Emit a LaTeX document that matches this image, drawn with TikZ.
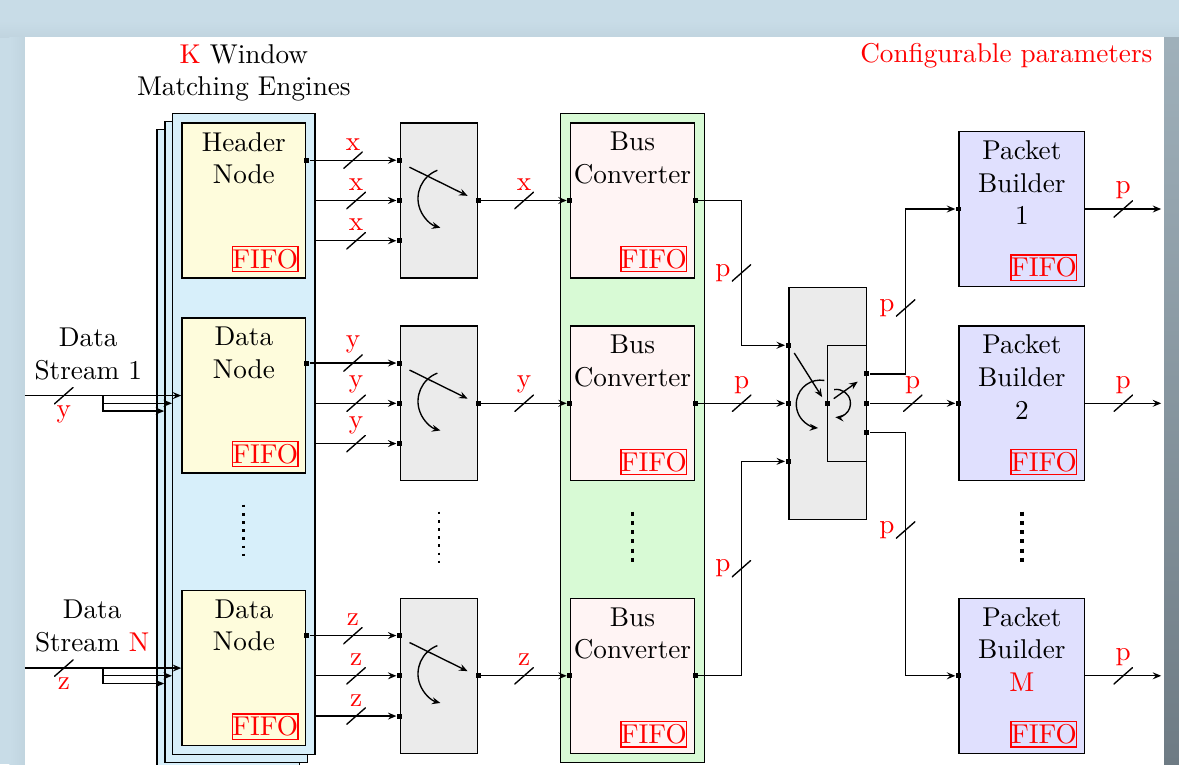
\documentclass[tikz,border=0pt]{standalone}
\usepackage{tikz}
\usepackage{xcolor}
\usetikzlibrary{positioning, calc, arrows.meta}
\definecolor{pageBg}{HTML}{C8DCE7}
\definecolor{pageShade}{HTML}{6E7B84}
\definecolor{wmeBlue}{HTML}{D7EFFA}
\definecolor{nodeYellow}{HTML}{FEFCDC}
\definecolor{swGray}{HTML}{EBEBEB}
\definecolor{busGreen}{HTML}{D8FAD5}
\definecolor{busPink}{HTML}{FFF4F4}
\definecolor{pbBlue}{HTML}{E0E0FE}

\begin{document}
\begin{tikzpicture}[
  line width=0.5pt,
  >={Stealth[length=1.1mm, width=0.9mm, inset=0.4mm]},
  wmelayer/.style={draw, fill=wmeBlue, minimum width=1.84cm, minimum height=8.28cm},
  dnode/.style={draw, fill=nodeYellow, minimum width=1.6cm, minimum height=2cm},
  swbox/.style={draw, fill=swGray, minimum width=1cm, minimum height=2cm},
  bcbox/.style={draw, fill=busPink, minimum width=1.6cm, minimum height=2cm},
  pbbox/.style={draw, fill=pbBlue, minimum width=1.62cm, minimum height=2cm},
  ttl/.style={align=center},
  fifo/.style={draw=red, text=red, inner xsep=0pt, inner ysep=1pt},
  port/.style={fill=black, inner sep=0pt, minimum size=1.8pt},
  lbl/.style={text=red, inner sep=0pt},
  bw/.style={inner sep=0pt, minimum width=0.25cm, minimum height=0.22cm,
             path picture={\draw[-] (path picture bounding box.south west)
                                 -- (path picture bounding box.north east);}},
  bwa/.style={bw, label={[lbl]above:#1}},
  bwb/.style={bw, label={[lbl]below:#1}},
  bwl/.style={bw, label={[lbl]left:#1}},
  morerows/.style={dotted, line width=1pt},
]
  % PAGE
  \useasboundingbox (0,0) rectangle (15.23,9.87);
  \clip (0,0) rectangle (15.23,9.87);
  \fill[pageBg] (0,0) rectangle (15.23,9.87);
  \shade[top color=pageBg, bottom color=pageBg!92!pageShade] (0,9.39) rectangle (15.23,9.6);
  \shade[left color=pageBg, right color=pageBg!92!pageShade] (0.12,0) rectangle (0.32,9.39);
  \shade[top color=pageBg!55!pageShade, bottom color=pageShade] (15.03,0) rectangle (15.23,9.39);
  \fill[white] (0.32,-0.1) rectangle (15.03,9.39);

  \node[ttl] (wtitle) at (3.15,8.93) {\textcolor{red}{K} Window\\Matching Engines};
  \node[text=red] (conf) at (13.0,9.15) {Configurable parameters};

  % WINDOW MATCHING ENGINES
  \node[wmelayer] (wme3) at (2.95,4.06) {};
  \node[wmelayer] (wme2) at (3.05,4.16) {};
  \node[wmelayer] (wme1) at (3.15,4.26) {};
  \node[dnode] (hn) at (3.15,7.28) {};
  \node[ttl, below=0pt of hn.north] (hnt) {Header\\Node};
  \node[fifo, above left=0.08cm and 0.1cm of hn.south east] (hnf) {FIFO};
  \node[dnode] (dn1) at (3.15,4.76) {};
  \node[ttl, below=0pt of dn1.north] (dn1t) {Data\\Node};
  \node[fifo, above left=0.08cm and 0.1cm of dn1.south east] (dn1f) {FIFO};
  \node[dnode] (dnN) at (3.15,1.24) {};
  \node[ttl, below=0pt of dnN.north] (dnNt) {Data\\Node};
  \node[fifo, above left=0.08cm and 0.1cm of dnN.south east] (dnNf) {FIFO};
  \draw[morerows] (3.15,3.35) -- (3.15,2.67);

  % DATA STREAMS
  \node[ttl] (ds1t) at (1.14,5.30) {Data\\Stream 1};
  \coordinate (ds1) at (0.32,4.76);
  \coordinate (br1) at (1.33,4.76);
  \draw[->] (ds1) -- node[bwb=y] (wy0) {} (br1) -- (dn1.west);
  \draw[->] (br1) |- ($(wme1.west |- br1)+(0,-0.1)$);
  \draw[->] (br1) |- ($(wme2.west |- br1)+(0,-0.2)$);
  \node[ttl] (dsNt) at (1.19,1.78) {Data\\Stream \textcolor{red}{N}};
  \coordinate (dsN) at (0.32,1.24);
  \coordinate (br2) at (1.33,1.24);
  \draw[->] (dsN) -- node[bwb=z] (wz0) {} (br2) -- (dnN.west);
  \draw[->] (br2) |- ($(wme1.west |- br2)+(0,-0.1)$);
  \draw[->] (br2) |- ($(wme2.west |- br2)+(0,-0.2)$);

  % SWITCHES
  \node[swbox] (sw1) at (5.67,7.28) {};
  \node[port] (s1a) at ($(sw1.west)+(0,0.52)$) {};
  \node[port] (s1b) at (sw1.west) {};
  \node[port] (s1c) at ($(sw1.west)+(0,-0.52)$) {};
  \node[port] (s1o) at (sw1.east) {};
  \draw[->] ($(sw1)+(-0.38,0.43)$) -- ($(sw1)+(0.37,0.06)$);
  \draw[->] ($(sw1)+(-0.02,0.39)$) arc[start angle=111, end angle=255, radius=0.39];
  \node[port] (h1) at (hn.east |- s1a) {};
  \draw[->] (h1) -- node[bwa=x] (wx1) {} (s1a);
  \draw[->] (wme1.east |- s1b) -- node[bwa=x] (wx2) {} (s1b);
  \draw[->] (wme1.east |- s1c) -- node[bwa=x] (wx3) {} (s1c);

  \node[swbox] (sw2) at (5.67,4.66) {};
  \node[port] (s2a) at ($(sw2.west)+(0,0.52)$) {};
  \node[port] (s2b) at (sw2.west) {};
  \node[port] (s2c) at ($(sw2.west)+(0,-0.52)$) {};
  \node[port] (s2o) at (sw2.east) {};
  \draw[->] ($(sw2)+(-0.38,0.43)$) -- ($(sw2)+(0.37,0.06)$);
  \draw[->] ($(sw2)+(-0.02,0.39)$) arc[start angle=111, end angle=255, radius=0.39];
  \node[port] (d1) at (dn1.east |- s2a) {};
  \draw[->] (d1) -- node[bwa=y] (wy1) {} (s2a);
  \draw[->] (wme1.east |- s2b) -- node[bwa=y] (wy2) {} (s2b);
  \draw[->] (wme1.east |- s2c) -- node[bwa=y] (wy3) {} (s2c);

  \draw[morerows] (5.67,3.26) -- (5.67,2.56);

  \node[swbox] (sw3) at (5.67,1.14) {};
  \node[port] (s3a) at ($(sw3.west)+(0,0.52)$) {};
  \node[port] (s3b) at (sw3.west) {};
  \node[port] (s3c) at ($(sw3.west)+(0,-0.52)$) {};
  \node[port] (s3o) at (sw3.east) {};
  \draw[->] ($(sw3)+(-0.38,0.43)$) -- ($(sw3)+(0.37,0.06)$);
  \draw[->] ($(sw3)+(-0.02,0.39)$) arc[start angle=111, end angle=255, radius=0.39];
  \node[port] (d2) at (dnN.east |- s3a) {};
  \draw[->] (d2) -- node[bwa=z] (wz1) {} (s3a);
  \draw[->] (wme1.east |- s3b) -- node[bwa=z] (wz2) {} (s3b);
  \draw[->] (wme1.east |- s3c) -- node[bwa=z] (wz3) {} (s3c);

  % BUS CONVERTERS
  \node[draw, fill=busGreen, minimum width=1.86cm, minimum height=8.38cm] (bcs) at (8.17,4.21) {};
  \node[bcbox] (bc1) at (8.17,7.28) {};
  \node[ttl, below=0pt of bc1.north] (bc1t) {Bus\\Converter};
  \node[fifo, above left=0.08cm and 0.1cm of bc1.south east] (bc1f) {FIFO};
  \node[bcbox] (bc2) at (8.17,4.66) {};
  \node[ttl, below=0pt of bc2.north] (bc2t) {Bus\\Converter};
  \node[fifo, above left=0.08cm and 0.1cm of bc2.south east] (bc2f) {FIFO};
  \node[bcbox] (bc3) at (8.17,1.14) {};
  \node[ttl, below=0pt of bc3.north] (bc3t) {Bus\\Converter};
  \node[fifo, above left=0.08cm and 0.1cm of bc3.south east] (bc3f) {FIFO};
  \draw[morerows, line width=1.4pt] (8.17,3.26) -- (8.17,2.56);
  \node[port] (c1i) at (bc1.west) {};
  \node[port] (c1o) at (bc1.east) {};
  \node[port] (c2i) at (bc2.west) {};
  \node[port] (c2o) at (bc2.east) {};
  \node[port] (c3i) at (bc3.west) {};
  \node[port] (c3o) at (bc3.east) {};
  \draw[->] (s1o) -- node[bwa=x] (wx4) {} (c1i);
  \draw[->] (s2o) -- node[bwa=y] (wy4) {} (c2i);
  \draw[->] (s3o) -- node[bwa=z] (wz4) {} (c3i);

  % MIDDLE SWITCH
  \node[swbox, minimum height=3cm] (ms) at (10.69,4.66) {};
  \draw ($(ms.east)+(0,0.75)$) -| ($(ms.center)+(0,-0.75)$) -- ($(ms.east)+(0,-0.75)$);
  \node[port] (mi1) at ($(ms.west)+(0,0.75)$) {};
  \node[port] (mi2) at (ms.west) {};
  \node[port] (mi3) at ($(ms.west)+(0,-0.75)$) {};
  \node[port] (mc) at (ms.center) {};
  \node[port] (mo1) at ($(ms.east)+(0,0.38)$) {};
  \node[port] (mo2) at (ms.east) {};
  \node[port] (mo3) at ($(ms.east)+(0,-0.38)$) {};
  \draw[->] ($(ms)+(-0.43,0.65)$) -- ($(ms)+(-0.07,0.08)$);
  \draw[->] ($(ms)+(-0.04,0.295)$) arc[start angle=80, end angle=265, radius=0.31];
  \draw[->] ($(ms)+(0.08,0.06)$) -- ($(ms)+(0.39,0.28)$);
  \draw[->] ($(ms)+(0.085,0.177)$) arc[start angle=100, end angle=-95, radius=0.18];
  \draw[->] (c1o) -- ++(0.6,0) |- node[pos=0.25, bwl=p] (wp1) {} (mi1);
  \draw[->] (c2o) -- node[bwa=p] (wp2) {} (mi2);
  \draw[->] (c3o) -- ++(0.6,0) |- node[pos=0.25, bwl=p] (wp3) {} (mi3);

  % PACKET BUILDERS
  \node[pbbox] (pb1) at (13.2,7.17) {};
  \node[ttl, below=0pt of pb1.north] (pb1t) {Packet\\Builder\\1};
  \node[fifo, above left=0.08cm and 0.1cm of pb1.south east] (pb1f) {FIFO};
  \node[pbbox] (pb2) at (13.2,4.66) {};
  \node[ttl, below=0pt of pb2.north] (pb2t) {Packet\\Builder\\2};
  \node[fifo, above left=0.08cm and 0.1cm of pb2.south east] (pb2f) {FIFO};
  \node[pbbox] (pbM) at (13.2,1.14) {};
  \node[ttl, below=0pt of pbM.north] (pbMt) {Packet\\Builder\\\textcolor{red}{M}};
  \node[fifo, above left=0.08cm and 0.1cm of pbM.south east] (pbMf) {FIFO};
  \draw[morerows, line width=1.4pt] (13.2,3.26) -- (13.2,2.56);
  \node[port] (p1i) at (pb1.west) {};
  \node[port] (p2i) at (pb2.west) {};
  \node[port] (p3i) at (pbM.west) {};
  \draw[->] (mo1) -- ++(0.5,0) |- node[pos=0.2, bwl=p] (wp4) {} (p1i);
  \draw[->] (mo2) -- node[bwa=p] (wp5) {} (p2i);
  \draw[->] (mo3) -- ++(0.5,0) |- node[pos=0.2, bwl=p] (wp6) {} (p3i);
  \coordinate (p1o) at (15.0,7.17);
  \coordinate (p2o) at (15.0,4.66);
  \coordinate (p3o) at (15.0,1.14);
  \draw[->] (pb1.east) -- node[bwa=p] (wp7) {} (p1o);
  \draw[->] (pb2.east) -- node[bwa=p] (wp8) {} (p2o);
  \draw[->] (pbM.east) -- node[bwa=p] (wp9) {} (p3o);
\end{tikzpicture}
\end{document}
